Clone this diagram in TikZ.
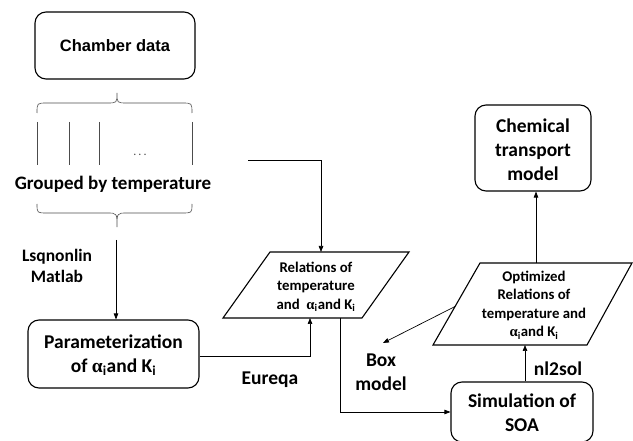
\documentclass[tikz,border=0pt]{standalone}
\usepackage{fontspec}
\setmainfont{Carlito}
\newfontfamily\arialf{Liberation Sans}
\newfontfamily\symf{Liberation Serif}
\newcommand{\alphai}{{\symf α}\textsubscript{i}}
\newcommand{\Kay}{K\textsubscript{i}}
\usetikzlibrary{arrows.meta,calc}
\tikzset{
  box/.style={draw, line width=1.1pt, rounded corners=11pt, inner sep=0pt},
  conn/.style={line width=0.7pt, -{Triangle[length=6pt,width=4.5pt]}},
  bigtxt/.style={font=\bfseries\fontsize{19.5}{24}\selectfont, align=center, inner sep=0pt},
  midtxt/.style={font=\bfseries\fontsize{17.5}{21}\selectfont, align=center, inner sep=0pt},
  smalltxt/.style={font=\bfseries\fontsize{14.8}{18.5}\selectfont, align=center, inner sep=0pt},
  para/.style={draw, line width=1.1pt, line join=miter},
  brace/.style={line width=0.6pt, draw=black!70}
}
\begin{document}
\begin{tikzpicture}[x=1pt, y=-1pt]
\useasboundingbox (0,0) rectangle (633,441);

% Chamber data
\node[box, minimum width=160pt, minimum height=67pt, font=\arialf\bfseries\fontsize{16.5}{20}\selectfont] (chamber) at (115,45.5) {Chamber data};

% top brace
\draw[brace] (37,113) .. controls (37,103) .. (47,103) -- (107,103) .. controls (117,103) .. (117,93)
  .. controls (117,103) .. (127,103) -- (182,103) .. controls (192,103) .. (192,113);
% vertical lines
\foreach \xx/\nm in {37/la,69/lb,99/lc,192/ld} {
  \draw[brace] (\xx,122) coordinate (\nm t) -- (\xx,165) coordinate (\nm b);
}
\node[font=\fontsize{12}{12}\selectfont, text=black!70, inner sep=0pt] (dots) at (140,155) {.\,.\,.};

% grouped text
\node[bigtxt, font=\bfseries\fontsize{19}{23}\selectfont] (grouped) at (113,184) {Grouped by temperature};

% bottom brace
\draw[brace] (37,204) .. controls (37,213) .. (47,213) -- (107,213) .. controls (117,213) .. (117,227)
  .. controls (117,213) .. (127,213) -- (182,213) .. controls (192,213) .. (192,204);
\coordinate (bracetip) at (116,240);

% Lsqnonlin
\node[midtxt] (lsq) at (57,265.5) {Lsqnonlin\\Matlab};

% Parameterization
\node[box, minimum width=171pt, minimum height=68pt] (param) at (113.5,354) {};
\node[bigtxt] (paramtxt) at (113.5,355) {Parameterization\\of \alphai and \Kay};

\draw[conn] (bracetip) -- (param.north -| bracetip);

% Relations parallelogram
\coordinate (r1) at (223,318);
\coordinate (r2) at (362,318);
\coordinate (r3) at (409,252);
\coordinate (r4) at (270,252);
\draw[para] (r1) -- (r2) -- (r3) -- (r4) -- cycle;
\node[smalltxt] (rel) at (316,286.5) {Relations of\\temperature\\and \ \alphai and \Kay};
\coordinate (reltop) at (321,252);
\coordinate (relbotin) at (310,318);
\coordinate (relbotout) at (340,318);

% grouped -> relations
\coordinate (gstart) at (248,160);
\draw[conn] (gstart) -| (reltop);

% param -> relations
\draw[conn] (param.east |- 0,356) -| (relbotin);
\node[bigtxt] (eureqa) at (270,380) {Eureqa};

% Simulation
\node[box, minimum width=142pt, minimum height=60pt] (sim) at (522,412) {};
\node[bigtxt] (simtxt) at (522,413) {Simulation of\\SOA};

\draw[conn] (relbotout) |- (sim.west |- 0,412);

% Optimized parallelogram
\coordinate (o1) at (433,345);
\coordinate (o2) at (587,345);
\coordinate (o3) at (632,263);
\coordinate (o4) at (480,263);
\draw[para] (o1) -- (o2) -- (o3) -- (o4) -- cycle;
\node[smalltxt] (opt) at (534,305) {Optimized\\Relations of\\temperature and\\\alphai and \Kay};
\coordinate (optbot) at (525,345);
\coordinate (opttop) at (536,263);
\coordinate (optleft) at ($(o1)!0.47!(o4)$);

\draw[conn] (sim.north -| optbot) -- (optbot);
\node[bigtxt] (nlsol) at (558,369) {nl2sol};

% Chemical transport model
\node[box, minimum width=116pt, minimum height=86pt] (chem) at (533,148) {};
\node[bigtxt] (chemtxt) at (533,150) {Chemical\\transport\\model};
\draw[conn] (opttop) -- (chem.south -| opttop);

% Box model
\node[bigtxt] (boxm) at (381,372.5) {Box\\model};
\coordinate (boxarrow) at (383,343);
\draw[conn] (optleft) -- (boxarrow);

\end{tikzpicture}
\end{document}
